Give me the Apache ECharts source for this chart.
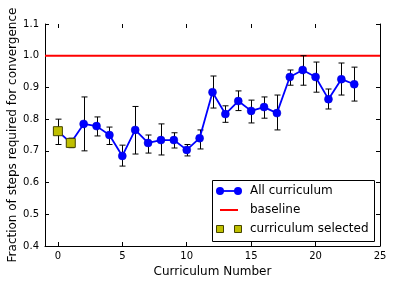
<!DOCTYPE html>
<html><head><meta charset="utf-8">
<script src="https://cdn.jsdelivr.net/npm/echarts@6/dist/echarts.min.js"></script>
<style>html,body{margin:0;padding:0;background:#fff}#c{width:393px;height:286px}</style>
</head><body><div id="c"></div>
<script>
var curriculum = [0,1,2,3,4,5,6,7,8,9,10,11,12,13,14,15,16,17,18,19,20,21,22,23];
var meanVals  = [0.762,0.725,0.785,0.778,0.750,0.684,0.766,0.725,0.734,0.734,0.703,0.740,0.885,0.816,0.857,0.826,0.838,0.819,0.933,0.955,0.933,0.863,0.926,0.910];
var errLow    = [0.720,0.710,0.700,0.747,0.720,0.652,0.690,0.693,0.687,0.709,0.684,0.706,0.835,0.790,0.827,0.788,0.803,0.766,0.907,0.907,0.885,0.832,0.876,0.857];
var errHigh   = [0.800,0.740,0.870,0.807,0.775,0.718,0.840,0.750,0.785,0.757,0.720,0.766,0.936,0.842,0.889,0.860,0.870,0.876,0.955,1.000,0.980,0.895,0.977,0.964];
var selectedIdx = [0,1];
var baselineVal = 1.0;
var xTicks = [0,5,10,15,20,25];
var yTicks = [0.4,0.5,0.6,0.7,0.8,0.9,1.0,1.1];

var chart = echarts.init(document.getElementById('c'));
var font = 'DejaVu Sans';
var mainData = curriculum.map(function(x,i){return [x, meanVals[i]];});
var errData = curriculum.map(function(x,i){return [x, errLow[i], errHigh[i]];});
var selData = selectedIdx.map(function(i){return [curriculum[i], meanVals[i]];});

function xAx(show){return {type:'value',min:-1,max:25,position:show?'bottom':'top',
  axisLine:{show:show,onZero:false,lineStyle:{color:'#000',width:1}},splitLine:{show:false},
  axisTick:{show:true,inside:true,length:4,customValues:xTicks,lineStyle:{color:'#000'}},
  axisLabel:{show:show,customValues:xTicks,color:'#000',fontFamily:font,fontSize:10,margin:5},
  name:show?'Curriculum Number':'',nameLocation:'middle',nameGap:20,nameMoveOverlap:false,
  nameTextStyle:{color:'#000',fontFamily:font,fontSize:12}};}
function yAx(show){return {type:'value',min:0.4,max:1.1,interval:0.1,position:show?'left':'right',
  axisLine:{show:true,onZero:false,lineStyle:{color:'#000',width:1}},splitLine:{show:false},
  axisTick:{show:true,inside:true,length:4,lineStyle:{color:'#000'}},
  axisLabel:{show:show,color:'#000',fontFamily:font,fontSize:10,margin:6,
    formatter:function(v){return (Math.round(v*10)/10).toFixed(1);}},
  name:show?'Fraction of steps required for convergence':'',nameLocation:'middle',nameGap:26,nameMoveOverlap:false,
  nameTextStyle:{color:'#000',fontFamily:font,fontSize:12}};}

var lx=212, ly=180;
chart.setOption({
  animation:false,
  grid:{left:45,right:13,top:24,bottom:40,containLabel:false,outerBoundsMode:'none'},
  xAxis:[xAx(true), xAx(false)],
  yAxis:[yAx(true), yAx(false)],
  series:[
    {type:'line',data:[[-1,baselineVal],[25,baselineVal]],symbol:'none',lineStyle:{color:'#ff0000',width:2},z:2,silent:true},
    {type:'custom',data:errData,z:3,silent:true,renderItem:function(params,api){
      var x=api.value(0), lo=api.coord([x,api.value(1)]), hi=api.coord([x,api.value(2)]);
      var cx=Math.round(lo[0])+0.5;
      var st={stroke:'#000',lineWidth:1};
      return {type:'group',children:[
        {type:'line',shape:{x1:cx,y1:lo[1],x2:cx,y2:hi[1]},style:st},
        {type:'line',shape:{x1:cx-3,y1:lo[1],x2:cx+3,y2:lo[1]},style:st},
        {type:'line',shape:{x1:cx-3,y1:hi[1],x2:cx+3,y2:hi[1]},style:st}]};
    }},
    {type:'line',data:mainData,symbol:'circle',symbolSize:8,lineStyle:{color:'#0000ff',width:1.8},silent:true,
      itemStyle:{color:'#0000ff',borderColor:'#0000cc',borderWidth:0.5},z:4},
    {type:'scatter',data:selData,symbol:'rect',symbolSize:9,silent:true,
      itemStyle:{color:'#bfbf00',borderColor:'#444400',borderWidth:1,opacity:1},z:5}
  ],
  graphic:[
    {type:'rect',shape:{x:lx+0.5,y:ly+0.5,width:162,height:61},style:{fill:'#fff',stroke:'#000',lineWidth:1},z:10},
    {type:'line',shape:{x1:220,y1:191,x2:238,y2:191},style:{stroke:'#0000ff',lineWidth:1.8},z:11},
    {type:'circle',shape:{cx:220,cy:191,r:4},style:{fill:'#0000ff'},z:11},
    {type:'circle',shape:{cx:238,cy:191,r:4},style:{fill:'#0000ff'},z:11},
    {type:'text',style:{x:250,y:191,text:'All curriculum',fill:'#000',font:'12px "DejaVu Sans"',verticalAlign:'middle'},z:11},
    {type:'line',shape:{x1:220,y1:210,x2:238,y2:210},style:{stroke:'#ff0000',lineWidth:2},z:11},
    {type:'text',style:{x:250,y:210,text:'baseline',fill:'#000',font:'12px "DejaVu Sans"',verticalAlign:'middle'},z:11},
    {type:'rect',shape:{x:216.5,y:225.5,width:7,height:7},style:{fill:'#bfbf00',stroke:'#444400',lineWidth:1},z:11},
    {type:'rect',shape:{x:234.5,y:225.5,width:7,height:7},style:{fill:'#bfbf00',stroke:'#444400',lineWidth:1},z:11},
    {type:'text',style:{x:250,y:229,text:'curriculum selected',fill:'#000',font:'12px "DejaVu Sans"',verticalAlign:'middle'},z:11}
  ]
});
</script></body></html>
